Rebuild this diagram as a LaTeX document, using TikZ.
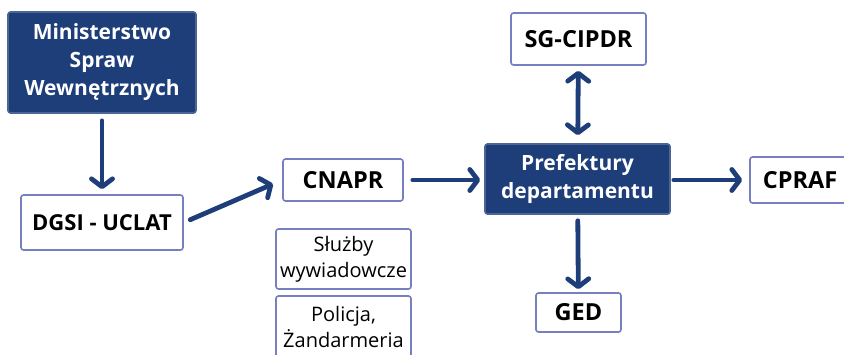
\documentclass[tikz,border=0pt]{standalone}
\usepackage{fontspec}
\setmainfont{Open Sans}
\usepackage{xcolor}
\usetikzlibrary{arrows.meta}
\definecolor{navy}{RGB}{30,62,122}
\definecolor{frame}{RGB}{118,128,192}

\begin{document}
\begin{tikzpicture}[
    x=1pt, y=-1pt,
    box/.style={rectangle, draw=frame, line width=1.6pt, fill=white, rounded corners=2.5pt, align=center, inner sep=0pt},
    darkbox/.style={box, draw=navy!80, fill=navy, text=white, font=\fontsize{21}{28}\selectfont\bfseries},
    label/.style={font=\fontsize{23.5}{26}\selectfont\bfseries},
    small/.style={font=\fontsize{20}{26}\selectfont},
    arrow/.style={-{Straight Barb[length=8pt,width=21pt,round]}, line width=4.8pt, draw=navy, line cap=round},
    both/.style={arrow, {Straight Barb[length=8pt,width=21pt,round]}-{Straight Barb[length=8pt,width=21pt,round]}}
]
    \useasboundingbox (0,0) rectangle (844,354);

    \node[darkbox, minimum width=188pt, minimum height=101pt] (msw) at (102,62.5) {Ministerstwo\\Spraw\\Wewnętrznych};
    \node[box, label, font=\fontsize{22}{26}\selectfont\bfseries, minimum width=162pt, minimum height=55pt] (dgsi) at (102,222.5) {DGSI - UCLAT};
    \node[box, label, minimum width=120pt, minimum height=42pt] (cnapr) at (343,180) {CNAPR};
    \node[box, small, minimum width=135pt, minimum height=60pt] (sluzby) at (343.5,259) {Służby\\wywiadowcze};
    \node[box, small, minimum width=135pt, minimum height=62pt] (policja) at (343.5,327) {Policja,\\Żandarmeria};
    \node[darkbox, minimum width=185pt, minimum height=70pt] (pref) at (577.5,179) {Prefektury\\departamentu};
    \node[box, label, minimum width=135pt, minimum height=52pt] (sgcipdr) at (578.5,39) {SG-CIPDR};
    \node[box, label, minimum width=85pt, minimum height=39pt] (ged) at (578.5,312.5) {GED};
    \node[box, label, minimum width=100pt, minimum height=46pt] (cpraf) at (800,180) {CPRAF};

    \draw[arrow, shorten <=7pt, shorten >=5pt] (msw) -- (dgsi);
    \draw[arrow, shorten <=7pt, shorten >=10pt] (dgsi.east) -- (cnapr.west);
    \draw[arrow, shorten <=9pt, shorten >=4pt] (cnapr) -- (pref.west |- cnapr);
    \draw[both, shorten <=5pt, shorten >=8pt] (sgcipdr) -- (pref);
    \draw[arrow, shorten <=6pt, shorten >=3pt] (pref) -- (ged);
    \draw[arrow, shorten <=3pt, shorten >=7pt] (pref.east |- cpraf) -- (cpraf);
\end{tikzpicture}
\end{document}
